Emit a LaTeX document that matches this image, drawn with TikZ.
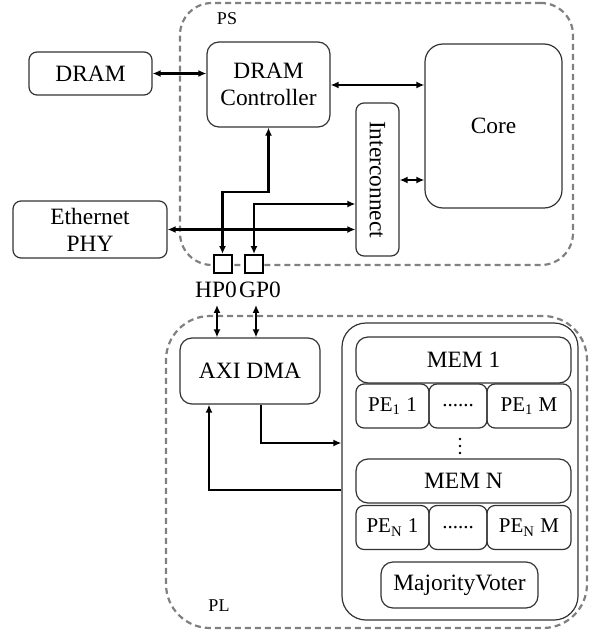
\documentclass[tikz,border=0pt]{standalone}
\usepackage{fontspec}
\setmainfont{Liberation Serif}
\usetikzlibrary{arrows.meta}

\tikzset{
  blk/.style={draw=black!80, line width=0.6pt, rounded corners=4pt, inner sep=0pt, align=center},
  pebox/.style={blk, minimum height=22pt, font=\fontsize{10.5}{12}\selectfont},
  zone/.style={draw=black!50, dash pattern=on 3pt off 2pt, line width=1.1pt, inner sep=0pt},
  port/.style={draw, line width=1pt, fill=white, minimum size=9pt, inner sep=0pt},
  bus/.style={line width=1.3pt, {Latex[length=4pt,width=3.5pt]}-{Latex[length=4pt,width=3.5pt]}},
  link/.style={line width=1.3pt, -{Latex[length=4pt,width=3.5pt]}},
}

\begin{document}
\begin{tikzpicture}[x=0.5pt, y=-0.5pt, font=\fontsize{11.7}{13.5}\selectfont]
\useasboundingbox (0,0) rectangle (589,631);

% processing system
\node[zone, rounded corners=16pt, minimum width=196.5pt, minimum height=131pt] (ps) at (376.5,134) {};
\node[font=\fontsize{9}{10}\selectfont] (pslbl) at (227,19) {PS};
\node[blk, minimum width=61.5pt, minimum height=21.5pt] (dram) at (90.5,73.5) {DRAM};
\node[blk, rounded corners=6pt, minimum width=61.5pt, minimum height=42.5pt] (ctrl) at (268.5,84.5) {DRAM\\Controller};
\node[blk, rounded corners=9pt, minimum width=68.5pt, minimum height=82pt] (core) at (493.5,126) {Core};
\node[blk, minimum width=21.5pt, minimum height=76.5pt, label={[rotate=-90]center:Interconnect}] (icn) at (377.5,179.5) {};
\node[blk, minimum width=77pt, minimum height=28.5pt] (eth) at (90,229.5) {Ethernet\\PHY};

% ports
\node[port] (hp0) at (222.5,264) {};
\node[port] (gp0) at (254,264) {};
\node (hplbl) at (216,290) {HP0};
\node (gplbl) at (260,290) {GP0};

\draw[bus] (dram.east) -- (dram.east -| ctrl.west);
\draw[bus] (ctrl.east |- 0,85) -- (core.west |- 0,85);
\draw[bus] (icn.east |- 0,180) -- (core.west |- 0,180);
\draw[bus] (ctrl.south) -- (ctrl.south |- 0,192) -| (hp0.north);
\draw[bus] (gp0.north) |- (icn.west |- 0,204);
\draw[bus] (eth.east) -- (eth.east -| icn.west);

% programmable logic
\node[zone, rounded corners=22pt, minimum width=210.5pt, minimum height=156pt] (pl) at (376.5,472) {};
\node[font=\fontsize{9}{10}\selectfont] (pllbl) at (219,606) {PL};
\node[blk, rounded corners=6pt, minimum width=70pt, minimum height=33pt] (dma) at (250,371) {AXI DMA};

\node[blk, rounded corners=12pt, minimum width=118pt, minimum height=148.5pt] (pe) at (460,471.5) {};
\node[blk, rounded corners=6pt, minimum width=107.5pt, minimum height=23pt] (mem1) at (463.5,360) {MEM 1};
\node[pebox, minimum width=36.5pt] (pe11) at (392.5,406) {PE\textsubscript{1} 1};
\node[pebox, minimum width=29pt] (pe1d) at (458,406) {......};
\node[pebox, minimum width=42pt] (pe1m) at (529,406) {PE\textsubscript{1} M};
\foreach \y in {439,446,453}
  \fill (460,\y) circle (0.7pt);
\node[blk, rounded corners=6pt, minimum width=107.5pt, minimum height=22pt] (memn) at (463.5,481) {MEM N};
\node[pebox, minimum width=36.5pt] (pen1) at (392.5,527.5) {PE\textsubscript{N} 1};
\node[pebox, minimum width=29pt] (pend) at (458,527.5) {......};
\node[pebox, minimum width=42pt] (penm) at (529,527.5) {PE\textsubscript{N} M};
\node[blk, rounded corners=6pt, minimum width=78.5pt, minimum height=23pt] (voter) at (459.5,585) {MajorityVoter};

\draw[bus] (hplbl.south -| 217,0) -- (dma.north -| 217,0);
\draw[bus] (gplbl.south -| 256,0) -- (dma.north -| 256,0);
\draw[link] (dma.south -| 261,0) |- (pe.west |- 0,443);
\draw[link] (pe.west |- 0,490) -| (dma.south -| 209,0);
\end{tikzpicture}
\end{document}
